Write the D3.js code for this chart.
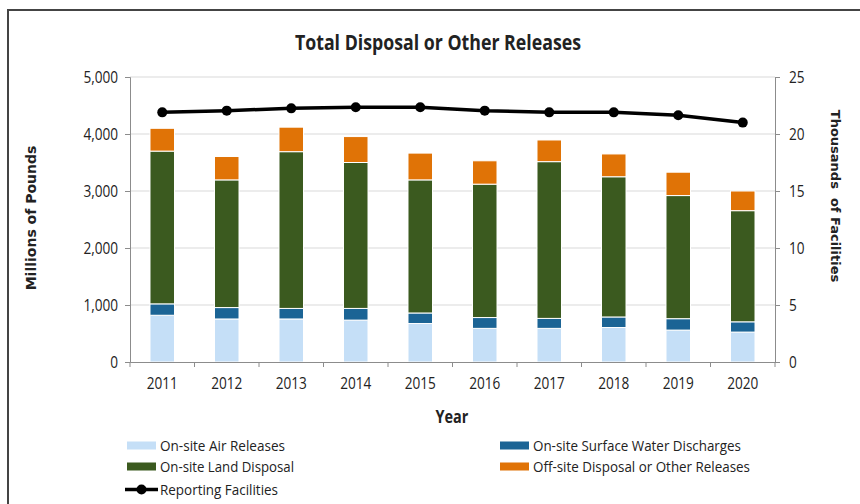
<!DOCTYPE html>
<html><head><meta charset="utf-8">
<script src="https://cdn.jsdelivr.net/npm/d3@7"></script>
<style>
body{margin:0;background:#fff;}
text{font-family:'Open Sans',sans-serif;fill:#222;}
</style></head>
<body><svg id="c" width="860" height="504"></svg>
<script>
const years = ["2011","2012","2013","2014","2015","2016","2017","2018","2019","2020"];
const airReleases   = [820, 755, 755, 735, 675, 590, 590, 605, 560, 525];
const waterDischarges = [200, 200, 185, 205, 185, 190, 175, 185, 200, 180];
const landDisposal  = [2680, 2240, 2750, 2560, 2335, 2340, 2750, 2460, 2160, 1950];
const offsiteDisposal = [400, 410, 430, 455, 470, 410, 380, 400, 410, 345];
const facilities = [21.9, 22.05, 22.25, 22.35, 22.35, 22.05, 21.9, 21.9, 21.65, 21.0];
const leftTicks = [0, 1000, 2000, 3000, 4000, 5000];
const rightTicks = [0, 5, 10, 15, 20, 25];
const seriesNames = ["On-site Air Releases","On-site Surface Water Discharges","On-site Land Disposal","Off-site Disposal or Other Releases"];
const seriesColors = ["#c5dff7","#1b6495","#3b5a1f","#e07306"];
const lineName = "Reporting Facilities";

const svg = d3.select("#c");
const L = 130, R = 775, T = 77, B = 362;

function fitWidth(sel, target){ sel.attr("textLength", target).attr("lengthAdjust","spacingAndGlyphs"); return sel; }
function condense(sel, f){ sel.each(function(){ const w=this.getComputedTextLength(); d3.select(this).attr("textLength", w*f).attr("lengthAdjust","spacingAndGlyphs"); }); return sel; }

// frame
svg.append("path").attr("d","M8,504 L8,10 L860,10").attr("fill","none").attr("stroke","#444").attr("stroke-width",2);

const x = d3.scaleBand().domain(years).range([L, R]).padding(0);
const yL = d3.scaleLinear().domain([0, 5000]).range([B, T]);
const yR = d3.scaleLinear().domain([0, 25]).range([B, T]);

// gridlines
svg.append("g").selectAll("line").data(leftTicks.filter(d=>d>0)).join("line")
  .attr("x1", L).attr("x2", R).attr("y1", d=>yL(d)).attr("y2", d=>yL(d))
  .attr("stroke","#d9d9d9").attr("stroke-width",1);

// stacked bars
const rows = years.map((y,i)=>({year:y, s0:airReleases[i], s1:waterDischarges[i], s2:landDisposal[i], s3:offsiteDisposal[i]}));
const stack = d3.stack().keys(["s0","s1","s2","s3"])(rows);
const bw = x.bandwidth()*0.38;
stack.forEach((layer, k)=>{
  svg.append("g").selectAll("rect").data(layer).join("rect")
    .attr("x", d=>x(d.data.year)+x.bandwidth()/2-bw/2)
    .attr("width", bw)
    .attr("y", d=>yL(d[1]))
    .attr("height", d=>yL(d[0])-yL(d[1]))
    .attr("fill", seriesColors[k])
    .attr("stroke","#fff").attr("stroke-width",1);
});

// axes
const axisColor = "#8c8c8c";
const gl = svg.append("g").attr("transform",`translate(${L},0)`)
  .call(d3.axisLeft(yL).tickValues(leftTicks).tickFormat(d3.format(",")).tickSize(5).tickPadding(7));
const gr = svg.append("g").attr("transform",`translate(${R},0)`)
  .call(d3.axisRight(yR).tickValues(rightTicks).tickSize(5).tickPadding(9));
const gb = svg.append("g").attr("transform",`translate(0,${B})`)
  .call(d3.axisBottom(x).tickSize(0).tickPadding(16));
svg.append("g").selectAll("line").data(years.concat(["end"])).join("line")
  .attr("x1",(d,i)=>L+i*x.step()).attr("x2",(d,i)=>L+i*x.step())
  .attr("y1",B).attr("y2",B+5).attr("stroke",axisColor);
[gl,gr,gb].forEach(g=>{
  g.selectAll("path.domain").attr("stroke",axisColor);
  g.selectAll(".tick line").attr("stroke",axisColor);
  g.selectAll(".tick text").style("font-size","16px").style("font-family","'Open Sans',sans-serif").attr("fill","#222");
  condense(g.selectAll(".tick text"), 0.85);
});

// line series
const line = d3.line().x((d,i)=>x(years[i])+x.bandwidth()/2).y(d=>yR(d));
svg.append("path").datum(facilities).attr("d",line).attr("fill","none")
  .attr("stroke","#000").attr("stroke-width",3.5);
svg.append("g").selectAll("circle").data(facilities).join("circle")
  .attr("cx",(d,i)=>x(years[i])+x.bandwidth()/2).attr("cy",d=>yR(d)).attr("r",5).attr("fill","#000");

// titles
condense(svg.append("text").attr("x",438).attr("y",50).attr("text-anchor","middle")
  .style("font-size","21px").style("font-weight","bold").text("Total Disposal or Other Releases"), 0.845);
condense(svg.append("text").attr("x",452).attr("y",423).attr("text-anchor","middle")
  .style("font-size","17px").style("font-weight","bold").text("Year"), 0.85);
svg.append("text").attr("transform","translate(36,218) rotate(-90)").attr("text-anchor","middle")
  .style("font-family","'DejaVu Sans',sans-serif").style("font-size","14px").style("font-weight","bold").text("Millions of Pounds");
svg.append("text").attr("transform","translate(831,196) rotate(90)").attr("text-anchor","middle")
  .style("font-family","'DejaVu Sans',sans-serif").style("font-size","13px").style("font-weight","bold")
  .attr("xml:space","preserve").text("Thousands  of Facilities");

// legend
const legendItems = [
  {name:seriesNames[0], color:seriesColors[0], x:127, y:445.5, w:125},
  {name:seriesNames[1], color:seriesColors[1], x:500, y:445.5, w:208},
  {name:seriesNames[2], color:seriesColors[2], x:127, y:466.5, w:134},
  {name:seriesNames[3], color:seriesColors[3], x:500, y:466.5, w:217}
];
const lg = svg.append("g");
legendItems.forEach(it=>{
  lg.append("rect").attr("x",it.x).attr("y",it.y-4).attr("width",29).attr("height",8).attr("fill",it.color);
  fitWidth(lg.append("text").attr("x",it.x+33).attr("y",it.y+5.5).style("font-size","15px").text(it.name), it.w);
});
lg.append("line").attr("x1",125).attr("x2",158).attr("y1",489.5).attr("y2",489.5).attr("stroke","#000").attr("stroke-width",3.5);
lg.append("circle").attr("cx",141.5).attr("cy",489.5).attr("r",5).attr("fill","#000");
fitWidth(lg.append("text").attr("x",160).attr("y",495).style("font-size","15px").text(lineName), 118);
</script></body></html>
